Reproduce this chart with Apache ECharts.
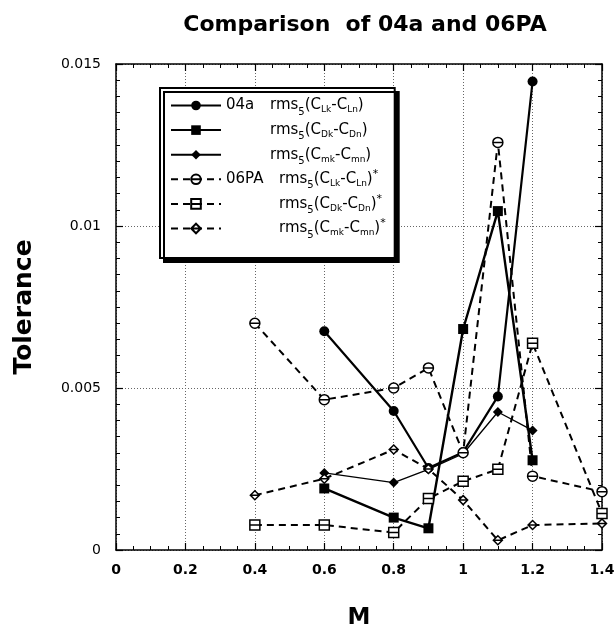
<!DOCTYPE html>
<html>
<head>
<meta charset="utf-8">
<script src="https://cdn.jsdelivr.net/npm/echarts@6/dist/echarts.min.js"></script>
<style>
  html, body { margin: 0; padding: 0; background: #fff; }
  #chart { width: 615px; height: 634px; }
</style>
</head>
<body>
<div id="chart"></div>
<script>
// Mach number stations for each data set
const machA = [0.6, 0.8, 0.9, 1.0, 1.1, 1.2];
const machP = [0.4, 0.6, 0.8, 0.9, 1.0, 1.1, 1.2, 1.4];

// 04a tolerances
const a04L = [0.00675, 0.00429, 0.00253, 0.00302, 0.00474, 0.01446];
const a04D = [0.00190, 0.00100, 0.00067, 0.00682, 0.01046, 0.00277];
const a04m = [0.00238, 0.00208, 0.00249, 0.00297, 0.00426, 0.00369];

// 06PA tolerances
const p06L = [0.00700, 0.00464, 0.00500, 0.00562, 0.00300, 0.01258, 0.00228, 0.00180];
const p06D = [0.00077, 0.00077, 0.00054, 0.00159, 0.00212, 0.00249, 0.00638, 0.00113];
const p06m = [0.00169, 0.00220, 0.00310, 0.00250, 0.00154, 0.00030, 0.00077, 0.00082];

const xTicks = [0, 0.2, 0.4, 0.6, 0.8, 1, 1.2, 1.4];
const yTicks = [0, 0.005, 0.01, 0.015];

const seriesNames = ['a04L', 'a04D', 'a04m', 'p06L', 'p06D', 'p06m'];

const FONT = 'DejaVu Sans, Verdana, sans-serif';

function pairs(xs, ys) { return xs.map((x, i) => [x, ys[i]]); }

const openCircle = 'path://M0,10 A10,10 0 1 1 20,10 A10,10 0 1 1 0,10 Z M0,10 L20,10';
const openSquare = 'path://M0,0 L20,0 L20,20 L0,20 Z M0,10 L20,10';
const openDiamond = 'path://M10,0 L20,10 L10,20 L0,10 Z M0,10 L20,10';

const legendText = {
  a04L: '{g1|04a}{r|rms}{f|5}{r|(C}{s|Lk}{r|-C}{s|Ln}{r|)}',
  a04D: '{g1|}{r|rms}{f|5}{r|(C}{s|Dk}{r|-C}{s|Dn}{r|)}',
  a04m: '{g1|}{r|rms}{f|5}{r|(C}{s|mk}{r|-C}{s|mn}{r|)}',
  p06L: '{g2|06PA}{r|rms}{f|5}{r|(C}{s|Lk}{r|-C}{s|Ln}{r|)}{u|*}',
  p06D: '{g2|}{r|rms}{f|5}{r|(C}{s|Dk}{r|-C}{s|Dn}{r|)}{u|*}',
  p06m: '{g2|}{r|rms}{f|5}{r|(C}{s|mk}{r|-C}{s|mn}{r|)}{u|*}'
};

function solid(name, xs, ys, symbol, width) {
  return {
    name, type: 'line', data: pairs(xs, ys),
    symbol, symbolSize: 10,
    lineStyle: { color: '#000', width, type: 'solid' },
    itemStyle: { color: '#000', borderColor: '#000', borderWidth: 0 },
    emphasis: { disabled: true }, animation: false
  };
}
function dashed(name, xs, ys, symbol, size) {
  return {
    name, type: 'line', data: pairs(xs, ys),
    symbol, symbolSize: size,
    lineStyle: { color: '#000', width: 2, type: [7, 5] },
    itemStyle: { color: '#fff', borderColor: '#000', borderWidth: 1.5 },
    emphasis: { disabled: true }, animation: false
  };
}

const axisCommon = {
  type: 'value',
  axisLine: { show: true, onZero: false, lineStyle: { color: '#000', width: 1.5 } },
  axisTick: { show: true, inside: true, length: 7, lineStyle: { color: '#000', width: 1.2 } },
  minorTick: { show: true, length: 4, lineStyle: { color: '#000', width: 1 } },
  splitLine: { show: false },
  minorSplitLine: { show: false }
};

const chart = echarts.init(document.getElementById('chart'), null, { renderer: 'canvas' });
chart.setOption({
  backgroundColor: '#fff',
  animation: false,
  textStyle: { fontFamily: FONT },
  title: {
    text: 'Comparison  of 04a and 06PA',
    left: 360, top: 9, textAlign: 'center',
    textStyle: { fontFamily: FONT, fontWeight: 'bold', fontSize: 22, color: '#000' }
  },
  grid: { left: 116, right: 13, top: 64, bottom: 84, containLabel: false, outerBoundsMode: 'none' },
  xAxis: [
    Object.assign({}, axisCommon, {
      min: xTicks[0], max: xTicks[xTicks.length - 1], interval: 0.2,
      position: 'bottom',
      minorTick: Object.assign({}, axisCommon.minorTick, { splitNumber: 4 }),
      axisLabel: { show: true, margin: 13, color: '#000', fontSize: 14, fontWeight: 'bold', fontFamily: FONT },
      splitLine: { show: true, lineStyle: { color: '#666', width: 1, type: [1, 2] } },
      name: 'M', nameLocation: 'middle', nameGap: 57,
      nameTextStyle: { fontFamily: FONT, fontWeight: 'bold', fontSize: 23, color: '#000' }
    }),
    Object.assign({}, axisCommon, {
      min: xTicks[0], max: xTicks[xTicks.length - 1], interval: 0.2,
      position: 'top',
      minorTick: Object.assign({}, axisCommon.minorTick, { splitNumber: 4 }),
      axisLabel: { show: false }
    })
  ],
  yAxis: [
    Object.assign({}, axisCommon, {
      min: yTicks[0], max: yTicks[yTicks.length - 1], interval: 0.005,
      position: 'left',
      minorTick: Object.assign({}, axisCommon.minorTick, { splitNumber: 10 }),
      axisLabel: { show: true, margin: 15, color: '#000', fontSize: 14, fontFamily: FONT },
      splitLine: { show: true, lineStyle: { color: '#666', width: 1, type: [1, 2] } },
      name: 'Tolerance', nameLocation: 'middle', nameGap: 79,
      nameTextStyle: { fontFamily: FONT, fontWeight: 'bold', fontSize: 25, color: '#000' }
    }),
    Object.assign({}, axisCommon, {
      min: yTicks[0], max: yTicks[yTicks.length - 1], interval: 0.005,
      position: 'right',
      minorTick: Object.assign({}, axisCommon.minorTick, { splitNumber: 10 }),
      axisLabel: { show: false }
    })
  ],
  legend: {
    orient: 'vertical',
    left: 160, top: 88,
    padding: [6, 9, 18, 10],
    itemWidth: 50, itemHeight: 12, itemGap: 1.6,
    backgroundColor: '#fff',
    borderColor: '#000', borderWidth: 2,
    shadowColor: '#000', shadowBlur: 0, shadowOffsetX: 4, shadowOffsetY: 4,
    data: seriesNames,
    selectedMode: false,
    formatter: name => legendText[name],
    textStyle: {
      color: '#000', fontFamily: FONT, fontSize: 15,
      rich: {
        g1: { width: 44, fontSize: 15, lineHeight: 10, fontFamily: FONT },
        g2: { width: 53, fontSize: 15, lineHeight: 10, fontFamily: FONT },
        r: { fontSize: 15, lineHeight: 10, fontFamily: FONT },
        f: { fontSize: 10, lineHeight: 10, padding: [13, 0, 0, 0], fontFamily: FONT },
        s: { fontSize: 9, lineHeight: 10, padding: [9, 0, 0, 0], fontFamily: FONT },
        u: { fontSize: 11, lineHeight: 10, padding: [0, 0, 10, 0], fontFamily: FONT }
      }
    }
  },
  series: [
    solid('a04L', machA, a04L, 'circle', 2.2),
    solid('a04D', machA, a04D, 'rect', 2.4),
    solid('a04m', machA, a04m, 'diamond', 1.3),
    dashed('p06L', machP, p06L, openCircle, 10),
    dashed('p06D', machP, p06D, openSquare, 10),
    dashed('p06m', machP, p06m, openDiamond, 9)
  ]
});
</script>
</body>
</html>
